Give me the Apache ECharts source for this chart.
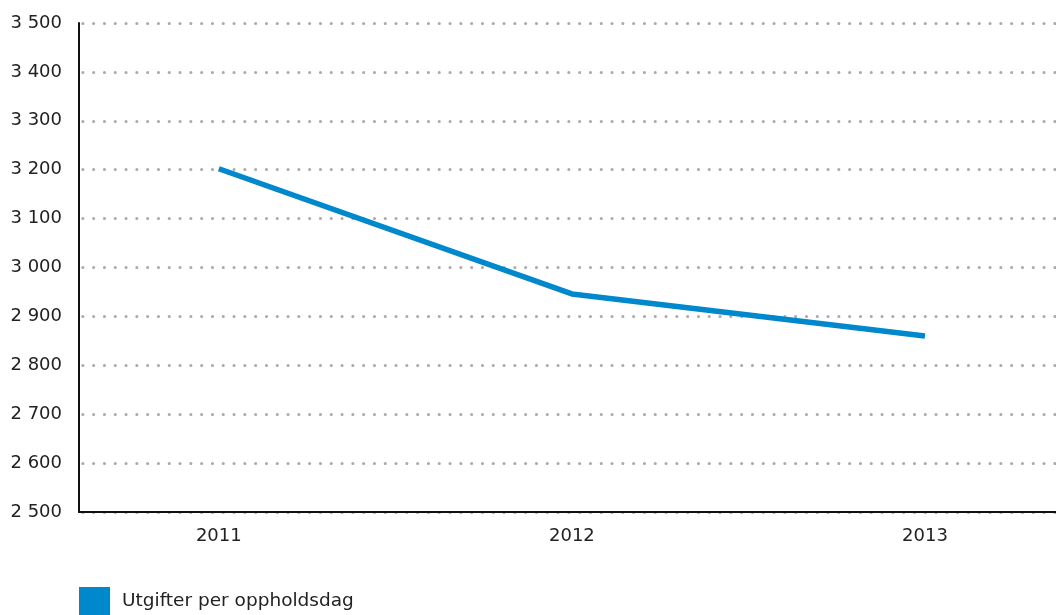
<!DOCTYPE html>
<html>
<head>
<meta charset="utf-8">
<title>Utgifter per oppholdsdag</title>
<script src="https://cdn.jsdelivr.net/npm/echarts@6/dist/echarts.min.js"></script>
<style>
  html, body { margin: 0; padding: 0; background: #fff; }
</style>
</head>
<body>
<div id="main" style="width: 1056px; height: 615px;"></div>
<script type="text/javascript">
// data
var years = [2011, 2012, 2013];
var utgifter = [3202, 2946, 2860];
var seriesName = 'Utgifter per oppholdsdag';

var chart = echarts.init(document.getElementById('main'));

function fmt(v) {
  return String(v).replace(/\B(?=(\d{3})+(?!\d))/g, ' ');
}

var option = {
  animation: false,
  textStyle: { fontFamily: 'DejaVu Sans' },
  grid: { left: 79, right: 0, top: 23, bottom: 103, containLabel: false },
  legend: {
    left: 74, top: 582,
    icon: 'rect',
    itemWidth: 31, itemHeight: 28,
    textStyle: { fontSize: 18.5, color: '#222', fontFamily: 'DejaVu Sans', padding: [3, 0, 0, 7] },
    data: [seriesName]
  },
  xAxis: {
    type: 'value',
    min: 2010.604, max: 2013.371,
    axisLine: { show: true, lineStyle: { color: '#111', width: 2 } },
    axisTick: { show: false },
    splitLine: { show: false },
    axisLabel: {
      customValues: years,
      color: '#222', fontSize: 18, margin: 15,
      formatter: function (v) { return String(v); }
    }
  },
  yAxis: {
    type: 'value',
    min: 2500, max: 3500, interval: 100,
    axisLine: { show: true, lineStyle: { color: '#111', width: 2 } },
    axisTick: { show: false },
    axisLabel: { color: '#222', fontSize: 18, margin: 17, formatter: fmt },
    splitLine: {
      lineStyle: { color: '#aaa', width: 3, type: [0.1, 10.7], dashOffset: 7, cap: 'round' }
    }
  },
  series: [{
    name: seriesName,
    type: 'line',
    data: years.map(function (y, i) { return [y, utgifter[i]]; }),
    showSymbol: false,
    symbol: 'none',
    lineStyle: { color: '#0088cc', width: 5.5 },
    itemStyle: { color: '#0088cc' }
  }]
};
chart.setOption(option);
</script>
</body>
</html>
